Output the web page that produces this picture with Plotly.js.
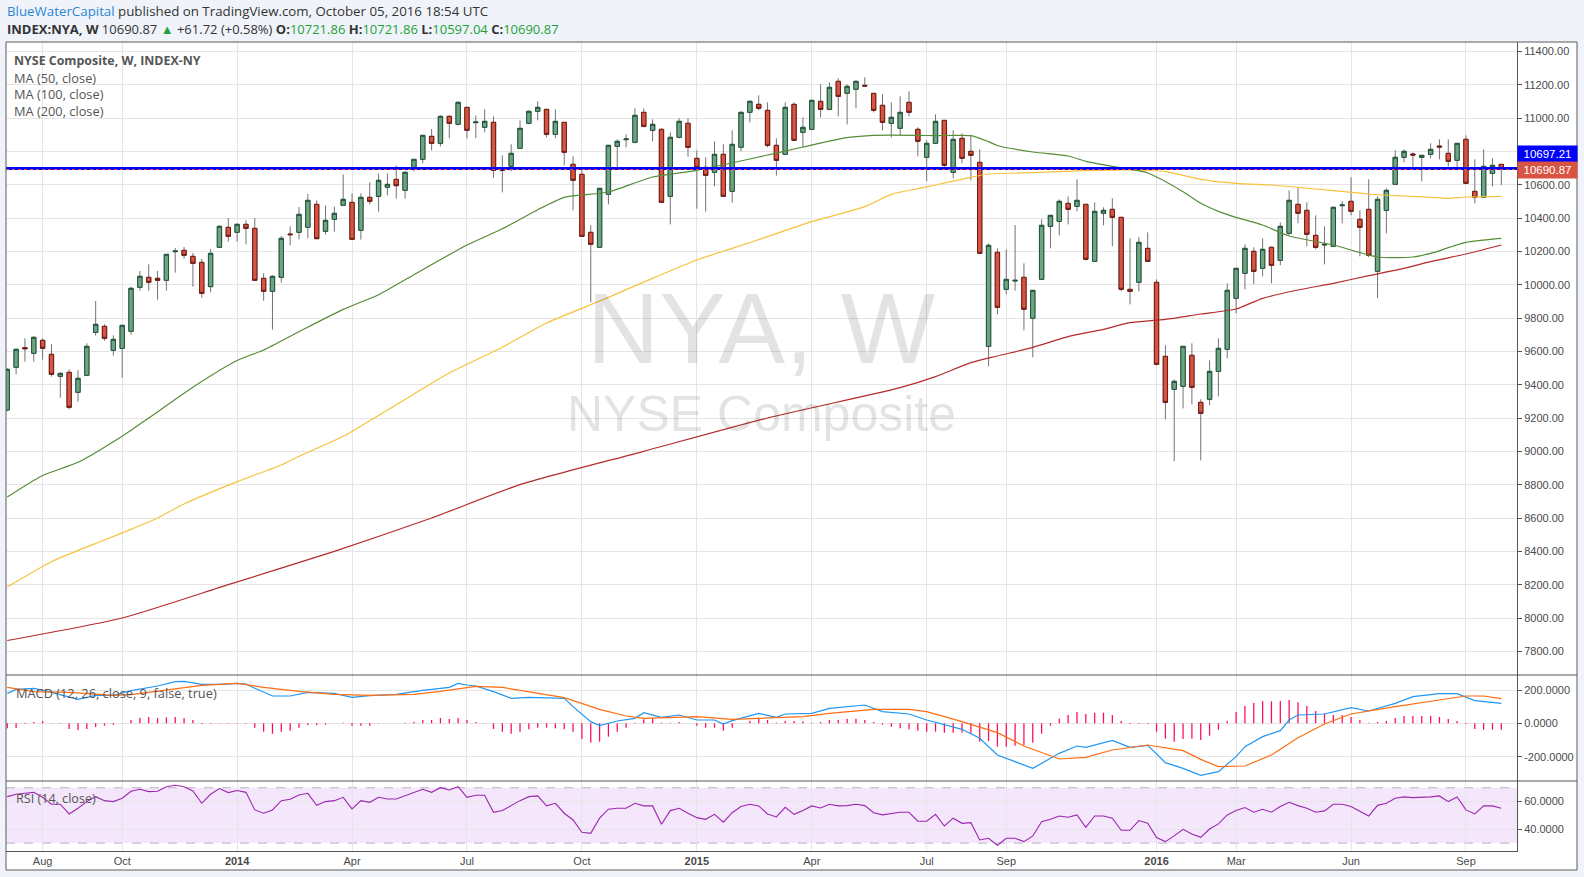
<!DOCTYPE html>
<html>
<head>
<meta charset="utf-8">
<script src="https://cdn.plot.ly/plotly-3.0.1.min.js"></script>
<style>
html,body{margin:0;padding:0;background:#f0f3fa;}
#chart{width:1584px;height:877px;}
</style>
</head>
<body>
<div id="chart"></div>
<script>
// ---------- DATA ----------
const firstWeek = '2013-07-08';   // Monday of first weekly bar

const opens = [9248,9504,9622,9588,9666,9582,9450,9474,9354,9456,
9714,9750,9606,9618,9720,9984,10044,10038,10026,10198,
10206,10170,10134,9988,10224,10344,10314,10362,10338,10038,
9960,10044,10304,10314,10344,10482,10320,10392,10476,10494,
10326,10524,10530,10584,10632,10566,10704,10752,10890,10848,
11010,10962,11064,10972,10944,10974,10690,10710,10818,10968,
11040,11052,10902,10974,10722,10662,10314,10224,10542,10830,
10870,10854,11034,10926,10932,10530,10884,10968,10758,10704,
10674,10782,10560,10824,11034,11082,11046,10836,10782,11082,
10914,10932,11100,11052,11220,11148,11172,11196,11148,11076,
10968,10938,11094,10932,10764,10848,10986,10674,10878,10800,
10734,9630,10194,9972,10022,10044,9798,10032,10350,10380,
10488,10470,10482,10140,10428,10452,10404,9972,10014,10218,
10014,9570,9372,9390,9576,9294,9312,9480,9612,9918,
10068,10200,10098,10224,10146,10308,10482,10446,10296,10238,
10230,10474,10500,10392,10452,10080,10446,10602,10764,10784,
10764,10782,10832,10788,10746,10872,10560,10524,10668,10721.86];

const highs = [9500,9618,9678,9690,9678,9644,9474,9492,9488,9648,
9902,9762,9696,9756,9988,10082,10122,10082,10182,10220,
10226,10190,10154,10214,10356,10400,10368,10386,10400,10068,
10056,10292,10350,10466,10544,10506,10476,10468,10662,10548,
10548,10614,10668,10668,10716,10680,10752,10896,10934,11016,
11016,11100,11064,11016,11052,11010,10776,10842,10986,11046,
11100,11052,11052,10974,10770,10698,10356,10578,10836,10872,
10902,11058,11058,10992,10938,10914,10998,10998,10806,10764,
10860,10842,10926,11040,11106,11136,11094,10878,11094,11094,
11004,11106,11202,11214,11238,11202,11226,11244,11148,11142,
11094,11130,11160,10944,10866,11022,10986,10926,10908,10896,
10812,10248,10218,10212,10358,10128,9966,10392,10416,10512,
10530,10632,10482,10494,10464,10518,10404,10278,10284,10314,
10032,9636,9432,9630,9648,9312,9546,9678,10008,10098,
10242,10224,10278,10230,10374,10566,10584,10494,10416,10350,
10470,10500,10644,10446,10632,10530,10578,10806,10812,10794,
10776,10848,10872,10872,10848,10896,10752,10812,10758,10721.86];

const lows = [9240,9462,9538,9538,9550,9448,9322,9252,9298,9456,
9694,9664,9574,9442,9700,9964,9964,9910,9964,10072,
10156,9988,9922,9954,10224,10258,10258,10242,10026,9904,
9730,10012,10236,10272,10278,10272,10300,10318,10476,10272,
10270,10482,10438,10536,10516,10516,10680,10728,10806,10830,
10878,10956,10878,10878,10914,10642,10554,10680,10818,10962,
10986,10884,10878,10716,10446,10290,9894,10224,10482,10698,
10824,10848,10944,10860,10494,10362,10878,10768,10456,10438,
10590,10530,10492,10800,10974,11046,10824,10654,10782,10866,
10824,10926,11004,11052,11010,10962,11058,11190,11034,10926,
10884,10896,11010,10770,10620,10848,10704,10638,10728,10626,
10188,9510,9822,9942,9964,9726,9564,10032,10218,10296,
10362,10440,10146,10140,10356,10230,9960,9882,9960,10140,
9516,9192,8940,9258,9282,8946,9276,9330,9558,9828,
9972,10002,10050,10008,10116,10296,10368,10230,10212,10122,
10230,10368,10416,10170,10164,9918,10308,10602,10734,10692,
10620,10758,10752,10710,10698,10608,10488,10524,10590,10597.04];

const closes = [9492,9612,9616,9684,9618,9462,9468,9264,9438,9630,
9762,9678,9672,9756,9978,10050,10014,10026,10182,10202,
10176,10128,9948,10188,10350,10290,10362,10338,10026,9960,
10050,10278,10300,10422,10506,10276,10386,10428,10512,10272,
10524,10500,10626,10602,10594,10674,10752,10896,10848,11010,
10968,11094,10926,10976,10980,10686,10686,10788,10938,11040,
11064,10902,10980,10794,10626,10290,10242,10578,10836,10860,
10874,11016,10950,10962,10494,10884,10980,10824,10704,10656,
10782,10530,10842,11034,11100,11058,10836,10746,11064,10866,
10944,11106,11052,11184,11130,11190,11220,11192,11046,10974,
11004,11034,11034,10860,10848,10980,10716,10872,10758,10776,
10188,10236,9864,10032,10026,9852,9966,10356,10416,10500,
10452,10506,10152,10440,10446,10404,9972,9960,10254,10140,
9522,9294,9420,9630,9384,9228,9480,9618,9966,10098,
10218,10080,10212,10116,10350,10506,10428,10302,10224,10242,
10464,10478,10440,10344,10176,10512,10566,10764,10800,10778,
10776,10812,10826,10740,10848,10608,10524,10710,10716,10690.87];

// moving averages (week index, value)
const ma50Idx = [0,4,8,13,16,21,26,29,33,38,42,46,52,56,60,63,65,68,73,78,84,90,95,98,103,105,109,111,112,116,120,122,125,129,133,135,137,139,142,145,150,155,159,161,165,169];
const ma50Val = [8726,8855,8934,9090,9200,9385,9545,9608,9718,9852,9940,10060,10238,10335,10450,10524,10538,10556,10646,10686,10754,10826,10882,10896,10896,10894,10894,10858,10835,10796,10772,10740,10710,10670,10558,10488,10440,10404,10358,10292,10238,10166,10166,10188,10254,10278];
const ma100Idx = [0,5,11,14,17,20,26,31,33,38,44,50,56,61,65,68,73,78,82,86,91,97,100,103,105,109,111,116,122,127,131,135,139,143,146,150,154,158,161,163,165,169];
const ma100Val = [8186,8338,8468,8532,8600,8684,8818,8918,8970,9090,9280,9470,9625,9770,9858,9924,10038,10148,10218,10288,10378,10468,10542,10576,10598,10644,10664,10672,10684,10688,10678,10632,10608,10598,10584,10564,10544,10532,10524,10518,10526,10530];
const ma200Idx = [0,13,25,37,48,58,72,86,101,105,109,112,116,120,124,127,131,135,139,142,146,150,154,158,161,165,169];
const ma200Val = [7865,8000,8200,8400,8600,8800,9000,9200,9382,9448,9532,9572,9624,9688,9732,9772,9792,9824,9854,9918,9968,10008,10054,10098,10138,10184,10238];

// MACD (12,26,9)
const macdIdx = [0,1,3,5,8,9,10,12,14,17,19,20,22,24,26,27,28,30,32,34,37,39,41,44,47,50,51,52,53,55,57,59,63,64,66,67,69,71,72,74,76,78,80,81,82,85,87,88,91,93,97,99,102,104,106,108,110,112,114,116,119,121,122,125,127,129,131,133,135,137,139,140,142,144,145,146,149,152,154,157,159,162,164,166,169];
const macdVal = [180,204,210,186,144,154,168,168,196,224,250,252,234,234,240,236,210,164,164,186,180,156,166,174,198,216,240,230,224,190,150,156,150,100,10,-14,14,30,64,36,50,20,20,-4,16,60,36,56,60,90,110,70,56,20,-10,-36,-90,-190,-230,-270,-180,-136,-144,-102,-144,-132,-236,-270,-312,-290,-200,-140,-80,-44,20,50,56,94,74,120,160,178,178,136,120];
const signalIdx = [0,3,7,12,14,18,22,26,29,33,37,41,46,49,53,56,59,63,67,70,72,78,82,86,90,93,98,102,104,108,112,115,119,122,125,129,133,135,137,140,143,146,149,152,154,157,162,165,167,169];
const signalVal = [216,190,186,168,172,200,228,240,216,192,174,168,174,192,222,216,190,154,84,44,30,40,24,30,40,60,84,84,70,10,-56,-136,-214,-204,-160,-130,-164,-216,-260,-256,-190,-86,-4,56,74,100,140,164,164,148];
const histVal = [-30,-28,-4,8,14,2,-2,-34,-40,-34,-22,-14,-8,2,20,32,38,32,36,38,32,20,-4,-4,-2,-2,-2,-2,-26,-50,-62,-50,-44,-26,-12,-12,-8,0,4,-14,-14,-14,-2,0,0,4,10,20,20,32,26,32,20,8,2,-34,
-50,-62,-50,-36,-26,-26,-30,-36,-50,-94,-116,-110,-80,-50,-26,4,24,28,4,4,8,0,-14,-26,-26,-44,-26,0,16,28,20,4,14,14,12,4,8,20,20,28,28,20,8,-8,-20,-30,-36,-44,-50,-50,-56,-56,-56,-62,-110,-106,-140,
-140,-134,-130,-116,-62,-14,28,50,68,56,64,64,50,14,-4,-4,-4,-50,-92,-110,-94,-92,-100,-74,-38,14,68,104,122,134,132,134,140,126,104,74,60,50,50,38,20,4,8,14,32,44,44,44,44,38,26,14,-4,-34,-38,-38,-38];

// RSI (14)
const rsiVal = [63.6,65.3,66.0,66.7,63.1,58.1,58.1,51.1,55.2,60.0,63.6,60.7,60.0,62.4,67.5,68.9,67.2,67.5,70.8,71.8,70.8,67.7,58.8,65.3,69.4,66.5,68.0,66.7,54.0,51.6,54.0,60.7,61.7,64.8,66.0,57.3,60.0,60.7,63.1,54.7,60.7,59.5,63.1,61.9,61.9,64.1,66.5,68.9,66.7,70.1,68.4,70.8,63.1,64.6,64.6,52.3,
53.5,57.1,60.7,63.6,64.1,56.9,58.8,51.6,46.7,37.8,37.1,48.0,54.5,55.2,55.2,58.8,56.9,56.9,43.6,53.5,55.2,51.6,48.4,47.2,50.8,45.1,52.0,56.4,58.1,56.9,51.1,48.9,55.9,50.8,53.5,56.9,55.4,58.1,56.9,57.1,58.1,57.1,52.0,50.4,51.1,52.3,52.3,45.8,45.8,50.8,42.4,48.0,44.3,44.8,32.3,33.5,28.5,
33.5,33.5,31.1,35.2,45.5,47.2,49.6,48.7,50.4,41.4,49.6,49.6,48.0,39.3,39.3,46.3,44.3,34.0,31.1,35.2,40.0,36.6,34.2,40.2,43.9,50.4,53.5,55.7,52.3,54.5,52.3,56.4,59.5,57.1,55.2,52.3,53.3,58.1,58.1,56.4,53.3,49.6,57.3,58.8,62.4,63.4,62.9,62.9,63.4,64.1,60.0,63.4,54.0,51.1,56.9,56.9,55.2];

const levelLine = 10697.21;
const tickDates = ['2013-08-05','2013-10-07','2014-01-06','2014-04-07','2014-07-07','2014-10-06','2015-01-05','2015-04-06','2015-07-06','2015-09-07','2016-01-04','2016-03-07','2016-06-06','2016-09-05'];
const tickLabels = ['Aug','Oct','<b>2014</b>','Apr','Jul','Oct','<b>2015</b>','Apr','Jul','Sep','<b>2016</b>','Mar','Jun','Sep'];

// ---------- BUILD ----------
const t0 = Date.parse(firstWeek + 'T00:00:00Z');
const wd = i => new Date(t0 + i * 7 * 86400000).toISOString().slice(0, 10);
const dates = opens.map((_, i) => wd(i));
const bodyHi = opens.map((o, i) => Math.max(o, closes[i]));
const bodyLo = opens.map((o, i) => Math.min(o, closes[i]));
const n = closes.length;

const UP = '#6ba583', DOWN = '#d75442';
const traces = [
  {type:'scatter', mode:'lines', x: ma200Idx.map(wd), y: ma200Val, line:{color:'#b52a2a', width:1.2, shape:'spline', smoothing:0.6}, hoverinfo:'skip'},
  {type:'scatter', mode:'lines', x: ma100Idx.map(wd), y: ma100Val, line:{color:'#f7c23b', width:1.2, shape:'spline', smoothing:0.6}, hoverinfo:'skip'},
  {type:'scatter', mode:'lines', x: ma50Idx.map(wd), y: ma50Val, line:{color:'#568c36', width:1.2, shape:'spline', smoothing:0.6}, hoverinfo:'skip'},
  {type:'candlestick', x: dates, open: opens, high: highs, low: lows, close: closes,
   increasing:{line:{color:'#737375', width:1}, fillcolor: UP},
   decreasing:{line:{color:'#737375', width:1}, fillcolor: DOWN},
   whiskerwidth:0, hoverinfo:'skip'},
  {type:'candlestick', x: dates, open: opens, high: bodyHi, low: bodyLo, close: closes,
   increasing:{line:{color:'#225437', width:1}, fillcolor: UP},
   decreasing:{line:{color:'#6f1a11', width:1}, fillcolor: DOWN},
   whiskerwidth:0, hoverinfo:'skip'},
  {type:'bar', x: dates, y: histVal, xaxis:'x', yaxis:'y2', width: 86400000 * 1.0, marker:{color:'#ff0a5a', line:{width:0}}, hoverinfo:'skip'},
  {type:'scatter', mode:'lines', x: macdIdx.map(wd), y: macdVal, xaxis:'x', yaxis:'y2', line:{color:'#2196f3', width:1.2}, hoverinfo:'skip'},
  {type:'scatter', mode:'lines', x: signalIdx.map(wd), y: signalVal, xaxis:'x', yaxis:'y2', line:{color:'#ff6d10', width:1.2}, hoverinfo:'skip'},
  {type:'scatter', mode:'lines', x: dates, y: rsiVal, xaxis:'x', yaxis:'y3', line:{color:'#9c27b0', width:1.1}, hoverinfo:'skip'}
];

// pixel -> paper helpers (plot area: x 6..1517, y 42..851)
const px = p => (p - 6) / 1511;
const py = p => (851 - p) / 809;

const gridC = '#e5e5e5', axC = '#555';
const yCommon = {side:'right', showgrid:true, gridcolor:gridC, zeroline:false, ticks:'outside', ticklen:4, tickcolor:axC,
  showline:true, linecolor:axC, linewidth:1, tickfont:{size:11, color:'#4a4a4a'}, fixedrange:true};

const green = '#21a337';
const last = n - 1;
const hdr2 = '<b>INDEX:NYA, W</b> ' + closes[last].toFixed(2) + ' <span style="color:' + green + '">▲</span> +61.72 (+0.58%) ' +
  '<b>O:</b><span style="color:' + green + '">' + opens[last].toFixed(2) + '</span> ' +
  '<b>H:</b><span style="color:' + green + '">' + highs[last].toFixed(2) + '</span> ' +
  '<b>L:</b><span style="color:' + green + '">' + lows[last].toFixed(2) + '</span> ' +
  '<b>C:</b><span style="color:' + green + '">' + closes[last].toFixed(2) + '</span>';

const txt = (text, x, y, size, opts) => Object.assign({text, xref:'paper', yref:'paper', x, y, xanchor:'left', yanchor:'middle', showarrow:false,
  font:{family:'Open Sans, sans-serif', size:size, color:'#555'}}, opts || {});

const layout = {
  width:1584, height:877,
  margin:{l:6, r:67, t:42, b:26, pad:0},
  paper_bgcolor:'#f0f3fa', plot_bgcolor:'#ffffff',
  font:{family:'Liberation Sans, Arial, sans-serif', size:11, color:'#555'},
  showlegend:false, hovermode:false, dragmode:false,
  xaxis:{type:'date', range:['2013-07-07','2016-10-15 10:00'], anchor:'y3', tickvals:tickDates, ticktext:tickLabels,
    showgrid:true, gridcolor:gridC, ticks:'', showline:true, linecolor:axC, linewidth:1, zeroline:false,
    rangeslider:{visible:false}, fixedrange:true, tickfont:{size:11, color:'#4a4a4a'}},
  yaxis:Object.assign({}, yCommon, {domain:[py(675), 1], range:[7658, 11456], dtick:200, tick0:0, tickformat:'.2f'}),
  yaxis2:Object.assign({}, yCommon, {domain:[py(781), py(675)], range:[-346, 290], tickvals:[-200,0,200], ticktext:['-200.0000','0.0000','200.0000']}),
  yaxis3:Object.assign({}, yCommon, {domain:[0, py(781)], range:[24.3, 74.9], tickvals:[40,60], ticktext:['40.0000','60.0000']}),
  shapes:[
    {type:'rect', layer:'below', xref:'paper', yref:'paper', x0:0, x1:px(1577), y0:py(870), y1:1, fillcolor:'#ffffff', line:{width:0}},
    {type:'rect', layer:'below', xref:'paper', yref:'y3', x0:0, x1:1, y0:30, y1:70, fillcolor:'#f4e6fb', line:{width:0}},
    {type:'line', layer:'below', xref:'paper', yref:'y3', x0:0, x1:1, y0:70, y1:70, line:{color:'#bdb0c4', width:1, dash:'dash'}},
    {type:'line', layer:'below', xref:'paper', yref:'y3', x0:0, x1:1, y0:30, y1:30, line:{color:'#bdb0c4', width:1, dash:'dash'}},
    {type:'line', layer:'above', xref:'paper', yref:'y', x0:0, x1:1, y0:levelLine, y1:levelLine, line:{color:'#0000ff', width:3}},
    {type:'line', layer:'above', xref:'paper', yref:'y', x0:0, x1:1, y0:closes[last], y1:closes[last], line:{color:'#e2473a', width:1, dash:'dot'}},
    {type:'line', layer:'above', xref:'paper', yref:'paper', x0:0, x1:px(1577), y0:py(675), y1:py(675), line:{color:axC, width:1}},
    {type:'line', layer:'above', xref:'paper', yref:'paper', x0:0, x1:px(1577), y0:py(781), y1:py(781), line:{color:axC, width:1}},
    {type:'rect', layer:'above', xref:'paper', yref:'paper', x0:0, x1:px(1577), y0:py(870), y1:1, fillcolor:'rgba(0,0,0,0)', line:{color:'#5a5a5a', width:1}}
  ],
  annotations:[
    txt('NYA, W', 0.5003, py(328), 100, {xanchor:'center', font:{family:'Liberation Sans, Arial, sans-serif', size:100, color:'rgba(0,0,0,0.11)'}}),
    txt('NYSE Composite', 0.5003, py(414), 50, {xanchor:'center', font:{family:'Liberation Sans, Arial, sans-serif', size:50, color:'rgba(0,0,0,0.11)'}}),
    txt('<span style="color:#2b86d1">BlueWaterCapital</span> published on TradingView.com, October 05, 2016 18:54 UTC', px(5), py(11.5), 13.3, {font:{family:'Open Sans, sans-serif', size:13.3, color:'#333'}}),
    txt(hdr2, px(5), py(29), 13, {font:{family:'Open Sans, sans-serif', size:13, color:'#333'}}),
    txt('<b>NYSE Composite, W, INDEX-NY</b>', px(12), py(60.5), 12.4),
    txt('MA (50, close)', px(12), py(77.5), 12.8),
    txt('MA (100, close)', px(12), py(94.3), 12.8),
    txt('MA (200, close)', px(12), py(111), 12.8),
    txt('MACD (12, 26, close, 9, false, true)', px(14), py(693), 12.8),
    txt('RSI (14, close)', px(14), py(798), 12.6),
    {text: levelLine.toFixed(2), xref:'paper', yref:'y', x:1, y:levelLine, yshift:14.5, xanchor:'left', yanchor:'middle', showarrow:false,
     bgcolor:'#0000ff', width:57, height:13.6, borderpad:1, font:{family:'Liberation Sans, Arial, sans-serif', size:11.5, color:'#ffffff'}},
    {text: closes[last].toFixed(2), xref:'paper', yref:'y', x:1, y:closes[last], xanchor:'left', yanchor:'middle', showarrow:false,
     bgcolor:'#d75442', width:57, height:13.6, borderpad:1, font:{family:'Liberation Sans, Arial, sans-serif', size:11.5, color:'#ffffff'}}
  ]
};

Plotly.newPlot('chart', traces, layout, {displayModeBar:false, staticPlot:true});
</script>
</body>
</html>
